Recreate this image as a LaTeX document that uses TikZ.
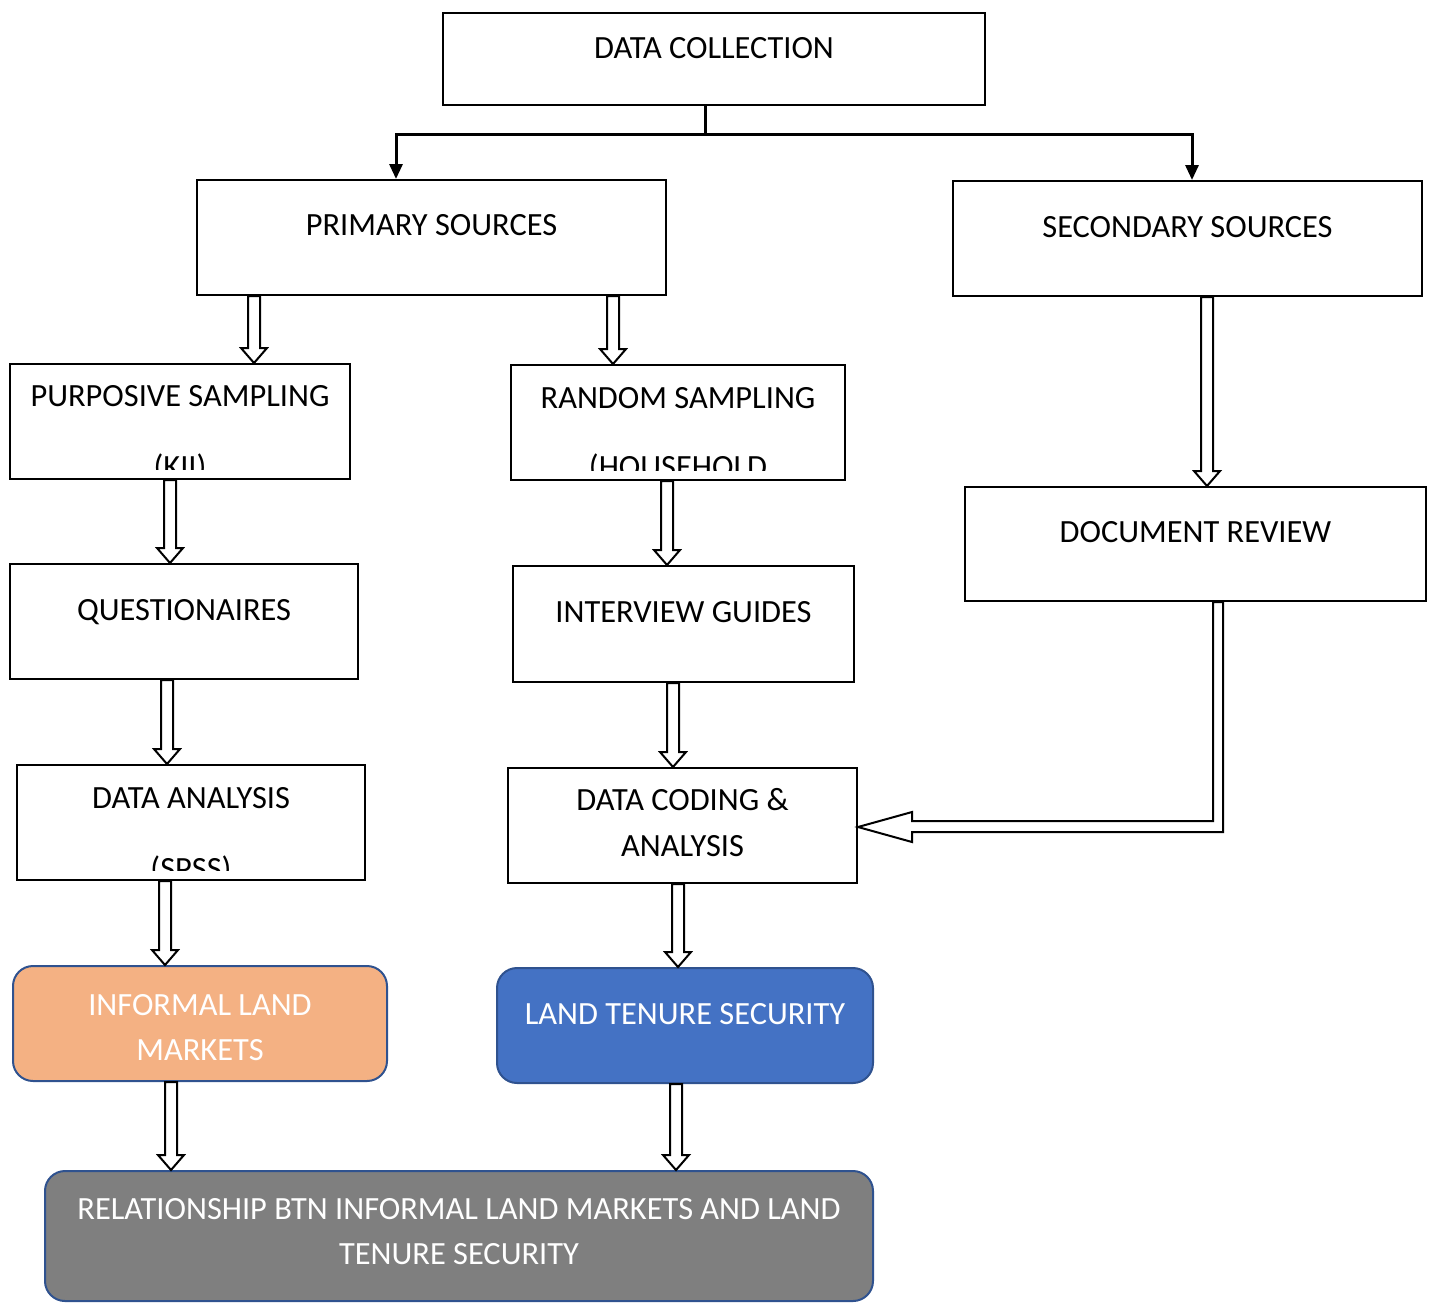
\documentclass[tikz,border=0pt]{standalone}
\usepackage{fontspec}
\setmainfont{Carlito}
\usetikzlibrary{fit, calc, arrows.meta}
\definecolor{edge}{HTML}{2F528F}
\definecolor{ilmfill}{HTML}{F4B183}
\definecolor{ltsfill}{HTML}{4472C4}
\definecolor{relfill}{HTML}{7F7F7F}
\tikzset{
  box/.style={draw=black, line width=1pt, inner sep=0pt},
  rbox/.style={draw=edge, line width=1pt, rounded corners=10pt, inner sep=0pt},
  txt/.style={anchor=base, inner sep=0pt, font=\fontsize{16.2}{19}\selectfont},
  wtxt/.style={txt, text=white},
  tree/.style={line width=1.5pt},
  barrow/.style={draw=black, fill=white, line width=1pt,
    to path={($(\tikztostart)+(-6,0)$) -- ($(\tikztotarget)+(-6,-15)$)
      -- ($(\tikztotarget)+(-13,-15)$) -- (\tikztotarget)
      -- ($(\tikztotarget)+(13,-15)$) -- ($(\tikztotarget)+(6,-15)$)
      -- ($(\tikztostart)+(6,0)$) -- cycle}},
}
\begin{document}
\begin{tikzpicture}[x=0.5pt, y=-0.5pt]
\useasboundingbox (0,0) rectangle (1434,1302);

% boxes
\node[box, fit={(443,13) (985,105)}] (dc) {};
\node[box, fit={(197,180) (666,295)}] (ps) {};
\node[box, fit={(953,181) (1422,296)}] (ss) {};
\node[box, fit={(10,364) (350,479)}] (pk) {};
\node[box, fit={(511,365) (845,480)}] (rs) {};
\node[box, fit={(10,564) (358,679)}] (qn) {};
\node[box, fit={(513,566) (854,682)}] (ig) {};
\node[box, fit={(965,487) (1426,601)}] (dr) {};
\node[box, fit={(17,765) (365,880)}] (da) {};
\node[box, fit={(508,768) (857,883)}] (dca) {};
\node[rbox, fill=ilmfill, fit={(13,966) (387,1081)}] (ilm) {};
\node[rbox, fill=ltsfill, fit={(497,968) (873,1083)}] (lts) {};
\node[rbox, fill=relfill, fit={(45,1171) (873,1301)}] (rel) {};

% texts
\node[txt] at (dc.center |- 0,58) {DATA COLLECTION};
\node[txt] at (ps.center |- 0,235) {PRIMARY SOURCES};
\node[txt] at (ss.center |- 0,237) {SECONDARY SOURCES};
\node[txt] at (pk.center |- 0,406) {PURPOSIVE SAMPLING};
\node[txt] at (rs.center |- 0,408) {RANDOM SAMPLING};
\node[txt] at (qn.center |- 0,620) {QUESTIONAIRES};
\node[txt] at (ig.center |- 0,622) {INTERVIEW GUIDES};
\node[txt] at (dr.center |- 0,542) {DOCUMENT REVIEW};
\node[txt] at (da.center |- 0,808) {DATA ANALYSIS};
\node[txt] at (dca.center |- 0,810) {DATA CODING \&};
\node[txt] at (dca.center |- 0,856) {ANALYSIS};
\node[wtxt] at (ilm.center |- 0,1015) {INFORMAL LAND};
\node[wtxt] at (ilm.center |- 0,1060) {MARKETS};
\node[wtxt] at (lts.center |- 0,1024) {LAND TENURE SECURITY};
\node[wtxt] at (rel.center |- 0,1219) {RELATIONSHIP BTN INFORMAL LAND MARKETS AND LAND};
\node[wtxt] at (rel.center |- 0,1264) {TENURE SECURITY};

% second lines cut off by the box
\begin{scope}
\clip (pk.north west) rectangle ([yshift=5.5pt]pk.south east);
\node[txt] at (pk.center |- 0,477) {(KII)};
\end{scope}
\begin{scope}
\clip (rs.north west) rectangle ([yshift=5.5pt]rs.south east);
\node[txt] at (rs.center |- 0,477) {(HOUSEHOLD};
\end{scope}
\begin{scope}
\clip (da.north west) rectangle ([yshift=5.5pt]da.south east);
\node[txt] at (da.center |- 0,879) {(SPSS)};
\end{scope}

% split from data collection
\coordinate (split) at (705,134);
\draw[tree] (705,0 |- dc.south) -- (split);
\draw[tree, -{Triangle[length=7.5pt, width=6.5pt]}] (split) -| (396,0 |- ps.north);
\draw[tree, -{Triangle[length=7.5pt, width=6.5pt]}] (split) -| (1192,0 |- ss.north);

% block arrows
\draw[barrow] (254,0 |- ps.south) to (254,0 |- pk.north);
\draw[barrow] (613,0 |- ps.south) to (613,0 |- rs.north);
\draw[barrow] (1207,0 |- ss.south) to (1207,0 |- dr.north);
\draw[barrow] (170,0 |- pk.south) to (170,0 |- qn.north);
\draw[barrow] (667,0 |- rs.south) to (667,0 |- ig.north);
\draw[barrow] (167,0 |- qn.south) to (167,0 |- da.north);
\draw[barrow] (673,0 |- ig.south) to (673,0 |- dca.north);
\draw[barrow] (165,0 |- da.south) to (165,0 |- ilm.north);
\draw[barrow] (678,0 |- dca.south) to (678,0 |- lts.north);
\draw[barrow] (171,0 |- ilm.south) to (171,0 |- rel.north);
\draw[barrow] (676,0 |- lts.south) to (676,0 |- rel.north);

% document review into coding
\draw[draw=black, fill=white, line width=1pt]
  (1213,0 |- dr.south) -- (1213,821) -- (912,821) -- (912,812)
  -- (dca.east |- 0,827) -- (912,842) -- (912,832) -- (1223,832)
  -- (1223,0 |- dr.south) -- cycle;
\end{tikzpicture}
\end{document}
